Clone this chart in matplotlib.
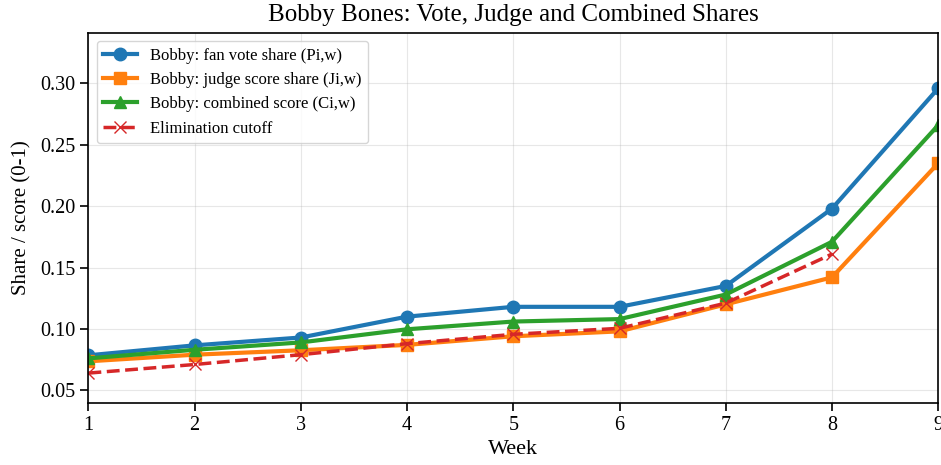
import matplotlib
matplotlib.use('Agg')
import matplotlib.pyplot as plt

plt.rcParams['font.family'] = ['Liberation Serif', 'DejaVu Serif']

weeks = [1, 2, 3, 4, 5, 6, 7, 8, 9]
fan_share = [0.0785, 0.0866, 0.093, 0.110, 0.118, 0.118, 0.135, 0.198, 0.296]
judge_share = [0.0736, 0.079, 0.0826, 0.087, 0.094, 0.098, 0.120, 0.142, 0.235]
combined = [0.076, 0.083, 0.089, 0.0997, 0.106, 0.108, 0.128, 0.171, 0.266]
cutoff_weeks = [1, 2, 3, 4, 5, 6, 7, 8]
cutoff = [0.064, 0.071, 0.079, 0.088, 0.0956, 0.1005, 0.121, 0.161]

fig, ax = plt.subplots(figsize=(9.41, 4.65), dpi=100)
ax.plot(weeks, fan_share, marker='o', color='#1f77b4', linewidth=3, markersize=9,
        label='Bobby: fan vote share (Pi,w)')
ax.plot(weeks, judge_share, marker='s', color='#ff7f0e', linewidth=3, markersize=9,
        label='Bobby: judge score share (Ji,w)')
ax.plot(weeks, combined, marker='^', color='#2ca02c', linewidth=3, markersize=9,
        label='Bobby: combined score (Ci,w)')
ax.plot(cutoff_weeks, cutoff, marker='x', color='#d62728', linewidth=2.5, markersize=9,
        linestyle='--', label='Elimination cutoff')

ax.set_xlim(1, 9)
ax.set_ylim(0.0395, 0.3415)
ax.set_xticks(weeks)
ax.set_yticks([0.05, 0.10, 0.15, 0.20, 0.25, 0.30])
ax.set_yticklabels(['0.05', '0.10', '0.15', '0.20', '0.25', '0.30'])
ax.tick_params(labelsize=14.5, length=5.5, width=1.2, pad=4)
for s in ax.spines.values():
    s.set_linewidth(1.2)
ax.grid(True, alpha=0.3)
ax.set_xlabel('Week', fontsize=16, labelpad=3)
ax.set_ylabel('Share / score (0-1)', fontsize=15, labelpad=6)
ax.set_title('Bobby Bones: Vote, Judge and Combined Shares', fontsize=18, pad=8)
ax.legend(loc='upper left', fontsize=12)

fig.subplots_adjust(left=0.094, right=0.997, top=0.93, bottom=0.133)
fig.savefig('out.png', dpi=100)
